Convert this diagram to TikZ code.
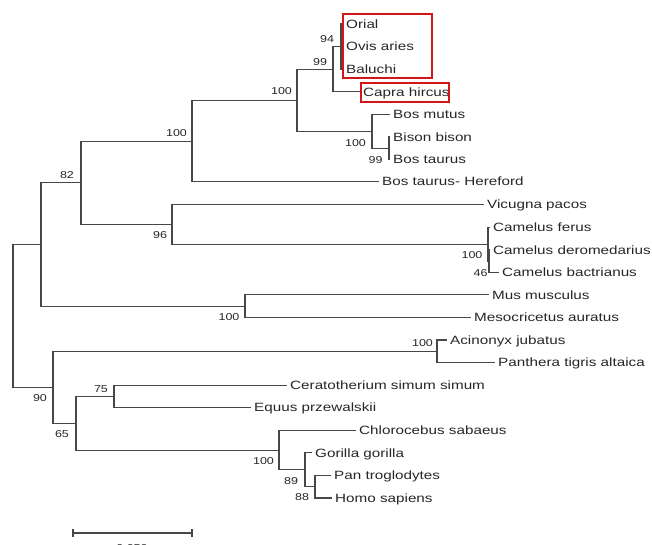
\documentclass[tikz,border=0pt]{standalone}
\usepackage{fontspec}
\setmainfont{Liberation Sans}
\newfontfamily\leaffont{Liberation Sans}[FakeStretch=1.27]
\newfontfamily\bsfont{Liberation Sans}[FakeStretch=1.25]
\definecolor{branchc}{HTML}{474747}
\definecolor{txtc}{HTML}{262626}
\definecolor{boxred}{HTML}{D41616}
\tikzset{
  branch/.style={draw=branchc, line width=1.05pt},
  leaf/.style={anchor=west, inner xsep=3pt, inner ysep=0pt, text height=8.6pt, text depth=0pt,
    font=\leaffont\fontsize{12pt}{14pt}\selectfont, text=txtc},
  boot/.style={inner sep=0pt, text height=7.2pt, text depth=0pt,
    font=\bsfont\fontsize{10pt}{12pt}\selectfont, text=txtc},
  redbox/.style={draw=boxred, line width=2.6pt}
}
\begin{document}
\begin{tikzpicture}[x=1pt, y=-1pt]
\useasboundingbox (0,0) rectangle (652,544);

% leaves
\node[leaf] (orial)   at (343,24.0)   {Orial};
\node[leaf] (ovis)    at (343,46.57)  {Ovis aries};
\node[leaf] (baluchi) at (343,69.14)  {Baluchi};
\node[leaf] (capra)   at (360,91.71)  {Capra hircus};
\node[leaf] (bosmut)  at (390,114.28) {Bos mutus};
\node[leaf] (bison)   at (390,136.85) {Bison bison};
\node[leaf] (bostau)  at (390,159.42) {Bos taurus};
\node[leaf] (herefd)  at (379,181.5)  {Bos taurus- Hereford};
\node[leaf] (vicug)   at (484,204.56) {Vicugna pacos};
\node[leaf] (cferus)  at (490,227.13) {Camelus ferus};
\node[leaf] (cderom)  at (490,249.7)  {Camelus deromedarius};
\node[leaf] (cbact)   at (499,272.27) {Camelus bactrianus};
\node[leaf] (mus)     at (489,294.84) {Mus musculus};
\node[leaf] (meso)    at (471,317.41) {Mesocricetus auratus};
\node[leaf] (acin)    at (447,339.98) {Acinonyx jubatus};
\node[leaf] (panth)   at (495,362.55) {Panthera tigris altaica};
\node[leaf] (cerat)   at (287,385.12) {Ceratotherium simum simum};
\node[leaf] (equus)   at (251,407.69) {Equus przewalskii};
\node[leaf] (chloro)  at (356,430.26) {Chlorocebus sabaeus};
\node[leaf] (goril)   at (312,452.83) {Gorilla gorilla};
\node[leaf] (pan)     at (331,475.4)  {Pan troglodytes};
\node[leaf] (homo)    at (332,497.97) {Homo sapiens};

% internal nodes
\coordinate (n94)   at (341,46.57);
\coordinate (n99s)  at (333,69.14);
\coordinate (n99b)  at (389,148.1);
\coordinate (nbos)  at (372,131.2);
\coordinate (n100a) at (297,100.2);
\coordinate (n100b) at (192,141.1);
\coordinate (n46)   at (489,261.0);
\coordinate (n100c) at (488,244.1);
\coordinate (n96)   at (172,224.3);
\coordinate (n82)   at (81,182.7);
\coordinate (nmus)  at (245,306.1);
\coordinate (n1)    at (41,244.4);
\coordinate (nacin) at (437,351.3);
\coordinate (n75)   at (114,396.4);
\coordinate (n88)   at (315,486.7);
\coordinate (n89)   at (305,469.8);
\coordinate (nprim) at (279,450.5);
\coordinate (n65)   at (76,423.2);
\coordinate (n90)   at (53,387.3);
\coordinate (root)  at (13,315.8);

% branches
\draw[branch] (n94) |- (orial.west);
\draw[branch] (n94) -- (ovis.west);
\draw[branch] (n94) |- (baluchi.west);
\draw[branch] (n99s) |- (n94);
\draw[branch] (n99s) |- (capra.west);
\draw[branch] (n99b) |- (bison.west);
\draw[branch] (n99b) |- (bostau.west);
\draw[branch] (nbos) |- (bosmut.west);
\draw[branch] (nbos) |- (n99b);
\draw[branch] (n100a) |- (n99s);
\draw[branch] (n100a) |- (nbos);
\draw[branch] (n100b) |- (n100a);
\draw[branch] (n100b) |- (herefd.west);
\draw[branch] (n46) |- (cderom.west);
\draw[branch] (n46) |- (cbact.west);
\draw[branch] (n100c) |- (cferus.west);
\draw[branch] (n100c) |- (n46);
\draw[branch] (n96) |- (vicug.west);
\draw[branch] (n96) |- (n100c);
\draw[branch] (n82) |- (n100b);
\draw[branch] (n82) |- (n96);
\draw[branch] (nmus) |- (mus.west);
\draw[branch] (nmus) |- (meso.west);
\draw[branch] (n1) |- (n82);
\draw[branch] (n1) |- (nmus);
\draw[branch] (nacin) |- (acin.west);
\draw[branch] (nacin) |- (panth.west);
\draw[branch] (n75) |- (cerat.west);
\draw[branch] (n75) |- (equus.west);
\draw[branch] (n88) |- (pan.west);
\draw[branch] (n88) |- (homo.west);
\draw[branch] (n89) |- (goril.west);
\draw[branch] (n89) |- (n88);
\draw[branch] (nprim) |- (chloro.west);
\draw[branch] (nprim) |- (n89);
\draw[branch] (n65) |- (n75);
\draw[branch] (n65) |- (nprim);
\draw[branch] (n90) |- (nacin);
\draw[branch] (n90) |- (n65);
\draw[branch] (root) |- (n1);
\draw[branch] (root) |- (n90);

% bootstrap values
\node[boot] (b94)   at (327,39)    {94};
\node[boot] (b99s)  at (320,61.5)  {99};
\node[boot] (b100a) at (281.5,91)  {100};
\node[boot] (b100b) at (176.5,133) {100};
\node[boot] (b82)   at (67,175)    {82};
\node[boot] (b96)   at (160,235)   {96};
\node[boot] (b100d) at (355.5,143) {100};
\node[boot] (b99b)  at (375.5,159.5) {99};
\node[boot] (b100c) at (472,255)   {100};
\node[boot] (b46)   at (480.5,273) {46};
\node[boot] (b100m) at (229,317)   {100};
\node[boot] (b100k) at (422.5,343) {100};
\node[boot] (b90)   at (40,398)    {90};
\node[boot] (b65)   at (62,434)    {65};
\node[boot] (b75)   at (101,388.5) {75};
\node[boot] (b100p) at (263.5,461) {100};
\node[boot] (b89)   at (291,481)   {89};
\node[boot] (b88)   at (302,497)   {88};

% red boxes
\draw[redbox] (343,14) rectangle (432,78);
\draw[redbox] (361,83) rectangle (449,102);

% scale bar
\coordinate (sL) at (73,533);
\coordinate (sR) at (192,533);
\draw[branch] (sL) -- (sR);
\draw[branch] ([yshift=4pt]sL) -- ([yshift=-4pt]sL);
\draw[branch] ([yshift=4pt]sR) -- ([yshift=-4pt]sR);
\node[boot] (scale) at (132,547.5) {0.050};
\end{tikzpicture}
\end{document}
